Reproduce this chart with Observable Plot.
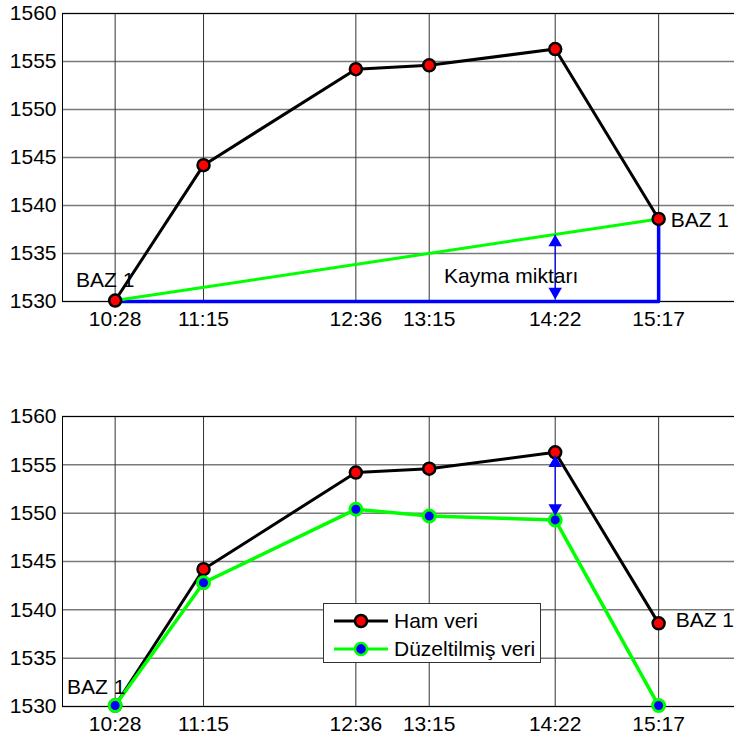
<!DOCTYPE html>
<html>
<head>
<meta charset="utf-8">
<script src="https://cdn.jsdelivr.net/npm/d3@7"></script>
<script src="https://cdn.jsdelivr.net/npm/@observablehq/plot@0.6"></script>
<style>
html, body { margin: 0; padding: 0; overflow: hidden; background: #fff; }
#wrap { position: relative; width: 734px; height: 740px; overflow: hidden; font-family: "Liberation Sans", Arial, sans-serif; }
#wrap svg { display: block; max-width: none !important; }
#legend { position: absolute; left: 323px; top: 603px; width: 216px; height: 58px; border: 1px solid #333; background: #fff; }
.row { position: absolute; left: 0; height: 28px; display: flex; align-items: center; font-size: 21px; color: #000; white-space: nowrap; }
.row svg { margin-left: 9px; margin-right: 5px; }
</style>
</head>
<body>
<div id="wrap"></div>
<script>
// ---- data ----
const times = ["10:28", "11:15", "12:36", "13:15", "14:22", "15:17"];
const hamVeri = [1530.1, 1544.2, 1554.2, 1554.6, 1556.3, 1538.6];
const duzeltilmisVeri = [1530.1, 1542.8, 1550.4, 1549.7, 1549.3, 1530.1];
const yTicks = [1530, 1535, 1540, 1545, 1550, 1555, 1560];
const driftLineTimes = ["10:28", "15:17"];
const driftLineValues = [1530.1, 1538.6];
const baseLineTimes = ["10:28", "15:17", "15:17"];
const baseLineValues = [1530, 1530, 1538.6];
const topArrow = { time: "14:22", from: 1530.3, to: 1536.9 };
const bottomArrow = { time: "14:22", from: 1555.9, to: 1549.8 };
const labelBase = "BAZ 1";
const labelDrift = "Kayma miktarı";
const legendNames = ["Ham veri", "Düzeltilmiş veri"];

// ---- helpers ----
const toMin = t => { const [h, m] = t.split(":").map(Number); return h * 60 + m; };
const tickMins = times.map(toMin);
const fmt = m => times[tickMins.indexOf(m)] ?? "";
const ham = times.map((t, i) => ({ x: toMin(t), y: hamVeri[i] }));
const duz = times.map((t, i) => ({ x: toMin(t), y: duzeltilmisVeri[i] }));
const drift = driftLineTimes.map((t, i) => ({ x: toMin(t), y: driftLineValues[i] }));
const base = baseLineTimes.map((t, i) => ({ x: toMin(t), y: baseLineValues[i] }));

const FONT = '"Liberation Sans", Arial, sans-serif';
const FS = 21;

function common(marginTop, marginBottom, marks) {
  return Plot.plot({
    width: 740,
    height: 370,
    marginLeft: 62,
    marginRight: 1,
    marginTop,
    marginBottom,
    style: { fontFamily: FONT, fontSize: FS + "px", color: "#000", background: "transparent", maxWidth: "none" },
    x: { domain: [600, 960] },
    y: { domain: [1530, 1560] },
    marks: [
      Plot.gridY(yTicks, { stroke: "#7a7a7a", strokeWidth: 1.5, strokeOpacity: 1 }),
      Plot.gridX(tickMins, { stroke: "#333", strokeWidth: 1, strokeOpacity: 1 }),
      Plot.frame({ stroke: "#000", strokeWidth: 1 }),
      Plot.axisY(yTicks, { tickSize: 0, tickPadding: 6, fontSize: FS, tickFormat: d => String(d), label: null }),
      Plot.axisX(tickMins, { tickSize: 0, tickPadding: 10, fontSize: FS, tickFormat: fmt, label: null }),
      ...marks
    ]
  });
}

function arrowMarks(a) {
  const x = toMin(a.time);
  const up = a.to > a.from;
  return [
    Plot.ruleX([x], { y1: a.from, y2: a.to, stroke: "#0000ff", strokeWidth: 1.2 }),
    Plot.dot([{ x, y: a.to }], { x: "x", y: "y", symbol: "triangle", r: 5, fill: "#0000ff", stroke: "none", rotate: up ? 0 : 180, dy: up ? 7 : -7 }),
    Plot.dot([{ x, y: a.from }], { x: "x", y: "y", symbol: "triangle", r: 5, fill: "#0000ff", stroke: "none", rotate: up ? 180 : 0, dy: up ? -7 : 7 })
  ];
}

// ---- top panel ----
const topPanel = common(13, 69, [
  Plot.line(ham, { x: "x", y: "y", stroke: "#000", strokeWidth: 3 }),
  Plot.line(base, { x: "x", y: "y", stroke: "#0000ff", strokeWidth: 3.5 }),
  Plot.line(drift, { x: "x", y: "y", stroke: "#00ff00", strokeWidth: 3 }),
  ...arrowMarks(topArrow),
  Plot.dot(ham, { x: "x", y: "y", r: 6, fill: "#ff0000", stroke: "#000", strokeWidth: 2.5 }),
  Plot.text([ham[0]], { x: "x", y: "y", text: () => labelBase, dx: -10, dy: -20, textAnchor: "middle", fontSize: FS }),
  Plot.text([ham[5]], { x: "x", y: "y", text: () => labelBase, dx: 12, dy: 1, textAnchor: "start", fontSize: FS }),
  Plot.text([{ x: toMin(topArrow.time), y: 1530 }], { x: "x", y: "y", text: () => labelDrift, dx: -44, dy: -25, textAnchor: "middle", fontSize: FS })
]);

// ---- bottom panel ----
const bottomPanel = common(46, 34, [
  Plot.line(ham, { x: "x", y: "y", stroke: "#000", strokeWidth: 3 }),
  Plot.line(duz, { x: "x", y: "y", stroke: "#00ff00", strokeWidth: 3.5 }),
  Plot.dot(ham, { x: "x", y: "y", r: 6, fill: "#ff0000", stroke: "#000", strokeWidth: 2.5 }),
  Plot.dot(duz, { x: "x", y: "y", r: 6, fill: "#0000ff", stroke: "#00ff00", strokeWidth: 3 }),
  ...arrowMarks(bottomArrow),
  Plot.text([duz[0]], { x: "x", y: "y", text: () => labelBase, dx: -19, dy: -18, textAnchor: "middle", fontSize: FS }),
  Plot.text([ham[5]], { x: "x", y: "y", text: () => labelBase, dx: 17, dy: -3, textAnchor: "start", fontSize: FS })
]);

const wrap = document.getElementById("wrap");
wrap.appendChild(topPanel);
wrap.appendChild(bottomPanel);

// ---- legend ----
const legend = document.createElement("div");
legend.id = "legend";
const styles = [
  { line: "#000", fill: "#ff0000", stroke: "#000" },
  { line: "#00ff00", fill: "#0000ff", stroke: "#00ff00" }
];
legendNames.forEach((name, i) => {
  const row = document.createElement("div");
  row.className = "row";
  row.style.top = (3 + i * 28) + "px";
  const s = styles[i];
  row.innerHTML = `<svg width="56" height="20"><line x1="1" y1="10" x2="55" y2="10" stroke="${s.line}" stroke-width="3"/><circle cx="28" cy="10" r="6" fill="${s.fill}" stroke="${s.stroke}" stroke-width="2.5"/></svg><span>${name}</span>`;
  legend.appendChild(row);
});
wrap.appendChild(legend);
</script>
</body>
</html>
